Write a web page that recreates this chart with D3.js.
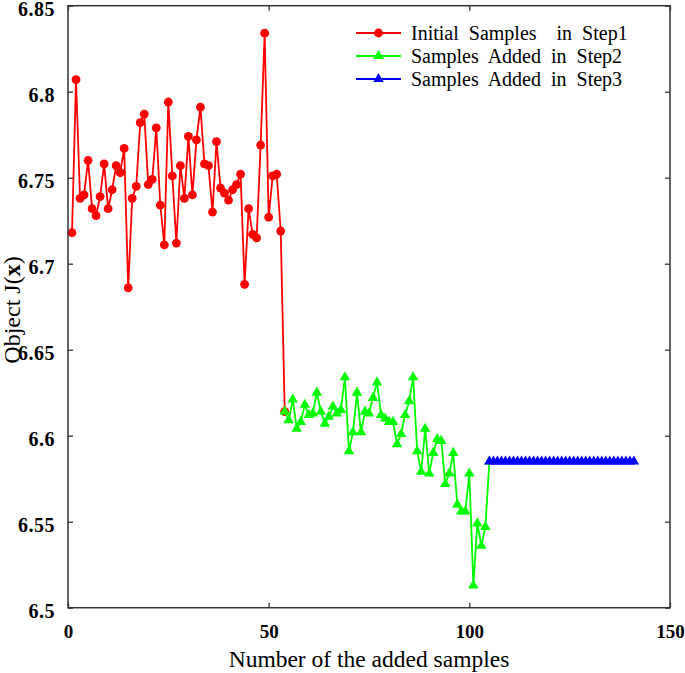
<!DOCTYPE html>
<html>
<head>
<meta charset="utf-8">
<script src="https://cdn.jsdelivr.net/npm/d3@7"></script>
<style>
  body { margin: 0; background: #fff; }
  svg text { font-family: "Liberation Serif", "Times New Roman", Times, "DejaVu Serif", serif !important; }
</style>
</head>
<body>
<svg id="chart" width="685" height="673"></svg>
<script>
// data
const step1X = d3.range(1, 55);
const step1Y = [6.718, 6.807, 6.738, 6.740, 6.760, 6.732, 6.728, 6.739, 6.758, 6.732,
  6.743, 6.757, 6.753, 6.767, 6.686, 6.738, 6.745, 6.782, 6.787, 6.746,
  6.749, 6.779, 6.734, 6.711, 6.794, 6.751, 6.712, 6.757, 6.738, 6.774,
  6.740, 6.772, 6.791, 6.758, 6.757, 6.730, 6.771, 6.744, 6.741, 6.737,
  6.743, 6.746, 6.752, 6.688, 6.732, 6.717, 6.715, 6.769, 6.834, 6.727,
  6.751, 6.752, 6.719, 6.614];

const step2X = d3.range(54, 106);
const step2Y = [6.614, 6.609, 6.621, 6.604, 6.608, 6.618, 6.612, 6.613, 6.625, 6.614,
  6.607, 6.611, 6.617, 6.613, 6.615, 6.634, 6.591, 6.602, 6.625, 6.602,
  6.614, 6.613, 6.622, 6.631, 6.612, 6.610, 6.608, 6.608, 6.595, 6.601,
  6.612, 6.620, 6.634, 6.591, 6.579, 6.604, 6.578, 6.590, 6.598, 6.597,
  6.572, 6.578, 6.590, 6.560, 6.556, 6.556, 6.578, 6.513, 6.549, 6.536,
  6.547, 6.585];

const step3X = d3.range(105, 142);
const step3Y = step3X.map(() => 6.585); // flat in the picture

const xTicks = [0, 50, 100, 150];
const yTicks = [6.5, 6.55, 6.6, 6.65, 6.7, 6.75, 6.8, 6.85];
const legendLabels = ["Initial Samples  in Step1", "Samples Added in Step2", "Samples Added in Step3"];

const series = [
  { xs: step1X, ys: step1Y, color: "#ff0000", marker: "circle", label: legendLabels[0] },
  { xs: step2X, ys: step2Y, color: "#00ff00", marker: "triangle", label: legendLabels[1] },
  { xs: step3X, ys: step3Y, color: "#0000ff", marker: "triangle", label: legendLabels[2] }
];

const svg = d3.select("#chart");
const plotL = 68, plotR = 670, plotT = 5.7, plotB = 607.7;

const x = d3.scaleLinear().domain([0, 150]).range([plotL, plotR]);
const y = d3.scaleLinear().domain([6.5, 6.85]).range([plotB, plotT]);

const triangle = d3.symbol().type(d3.symbolTriangle).size(48);

// series
series.forEach(s => {
  const pts = s.xs.map((d, i) => [d, s.ys[i]]);
  const g = svg.append("g");
  g.append("path")
    .datum(pts)
    .attr("fill", "none")
    .attr("stroke", s.color)
    .attr("stroke-width", 1.8)
    .attr("d", d3.line().x(d => x(d[0])).y(d => y(d[1])));

  if (s.marker === "circle") {
    g.selectAll("circle").data(pts).join("circle")
      .attr("cx", d => x(d[0])).attr("cy", d => y(d[1]))
      .attr("r", 4.4).attr("fill", s.color);
  } else {
    g.selectAll("path.m").data(pts).join("path")
      .attr("class", "m")
      .attr("transform", d => `translate(${x(d[0])},${y(d[1])})`)
      .attr("d", triangle).attr("fill", s.color);
  }
});

// frame
svg.append("rect")
  .attr("x", plotL).attr("y", plotT)
  .attr("width", plotR - plotL).attr("height", plotB - plotT)
  .attr("fill", "none").attr("stroke", "#333").attr("stroke-width", 1.5);

// axes, ticks pointing inward
const xAxis = svg.append("g")
  .attr("transform", `translate(0,${plotB})`)
  .call(d3.axisBottom(x).tickValues(xTicks).tickSize(-5).tickPadding(13).tickFormat(d3.format("d")));
const xAxisTop = svg.append("g")
  .attr("transform", `translate(0,${plotT})`)
  .call(d3.axisTop(x).tickValues(xTicks).tickSize(-5).tickFormat(""));
const yAxis = svg.append("g")
  .attr("transform", `translate(${plotL},0)`)
  .call(d3.axisLeft(y).tickValues(yTicks).tickSize(-5).tickPadding(13).tickFormat(d => String(+d.toFixed(2))));
const yAxisRight = svg.append("g")
  .attr("transform", `translate(${plotR},0)`)
  .call(d3.axisRight(y).tickValues(yTicks).tickSize(-5).tickFormat(""));

[xAxis, xAxisTop, yAxis, yAxisRight].forEach(a => {
  a.attr("font-family", null);
  a.select(".domain").remove();
  a.selectAll(".tick line").attr("stroke", "#333").attr("stroke-width", 1.3);
  a.selectAll("text")
    .attr("font-weight", "bold")
    .attr("font-size", 19)
    .attr("fill", "#000");
});
yAxis.selectAll("text").attr("dy", "0.5em").attr("font-size", 20).style("letter-spacing", "0.5px");
xAxis.selectAll("text").attr("dy", "0.9em");

// axis titles
svg.append("text")
  .attr("x", (plotL + plotR) / 2).attr("y", 667)
  .attr("text-anchor", "middle")
  .attr("font-size", 23.5)
  .text("Number of the added samples");

const yTitle = svg.append("text")
  .attr("transform", `translate(20,310) rotate(-90)`)
  .attr("text-anchor", "middle")
  .attr("font-size", 24);
yTitle.append("tspan").text("Object J(");
yTitle.append("tspan").attr("font-weight", "bold").text("x");
yTitle.append("tspan").text(")");

// legend
const legend = svg.append("g").attr("transform", "translate(356,33)");
series.forEach((s, i) => {
  const row = legend.append("g").attr("transform", `translate(0,${i * 23})`);
  row.append("line").attr("x1", 0).attr("x2", 45).attr("y1", 0).attr("y2", 0)
    .attr("stroke", s.color).attr("stroke-width", 1.8);
  if (s.marker === "circle") {
    row.append("circle").attr("cx", 22.5).attr("cy", 0).attr("r", 4.4).attr("fill", s.color);
  } else {
    row.append("path").attr("transform", "translate(22.5,0)").attr("d", triangle).attr("fill", s.color);
  }
  row.append("text")
    .attr("x", 55).attr("y", 0).attr("dy", "0.35em")
    .attr("font-size", 20)
    .style("white-space", "pre")
    .style("word-spacing", "5px")
    .text(s.label);
});
</script>
</body>
</html>
